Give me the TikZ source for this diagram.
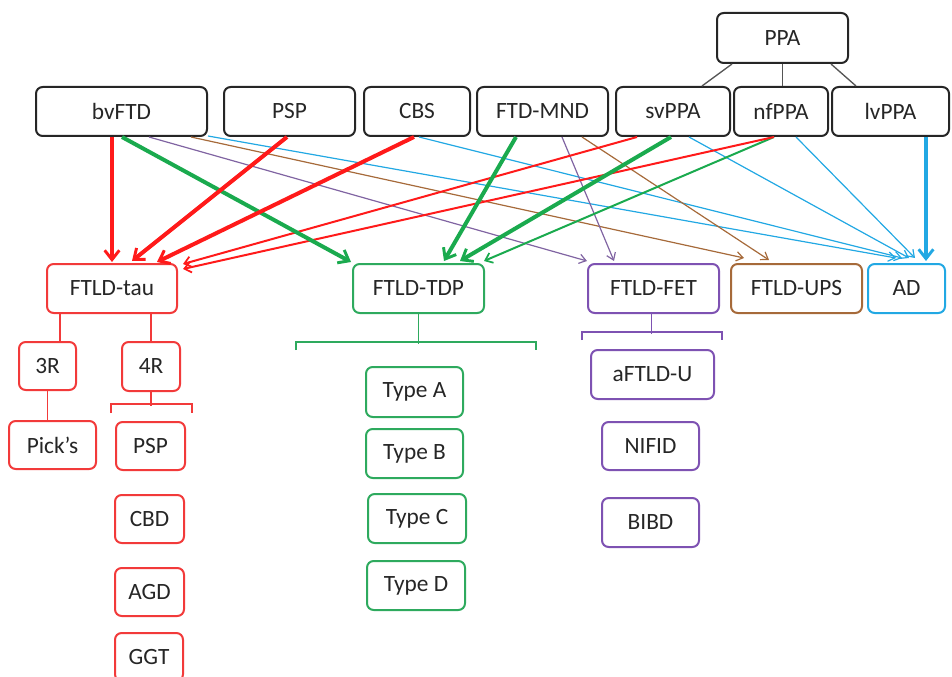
\documentclass[tikz,border=0pt]{standalone}
\usepackage{fontspec}
\setmainfont{Carlito}
\usetikzlibrary{arrows.meta,calc}
\definecolor{txt}{HTML}{262626}
\definecolor{cred}{HTML}{FF1A1A}
\definecolor{bred}{HTML}{F23A3A}
\definecolor{cgreen}{HTML}{1AAA4E}
\definecolor{bgreen}{HTML}{2EAA5E}
\definecolor{cpurple}{HTML}{8064A2}
\definecolor{bpurple}{HTML}{7E52B2}
\definecolor{cbrown}{HTML}{A66A3A}
\definecolor{cblue}{HTML}{22A8E3}
\definecolor{cgray}{HTML}{555555}
\newcommand\mybox[7]{\node[#2, minimum width={(#5-#3)*0.75pt}, minimum height={(#6-#4)*0.75pt}] (#1) at ({(#3+#5)/2},{(#4+#6)/2}) {#7};}
\begin{document}
\begin{tikzpicture}[x=0.75pt,y=-0.75pt,
  box/.style={draw, fill=white, rounded corners=5pt, line width=1.5pt, inner sep=0pt, text=txt, font=\fontsize{17.5}{20}\selectfont},
  kbox/.style={box, draw=black!85},
  rbox/.style={box, draw=bred},
  gbox/.style={box, draw=bgreen},
  pbox/.style={box, draw=bpurple},
  nbox/.style={box, draw=cbrown},
  ubox/.style={box, draw=cblue},
  thick arr/.style={line width=3pt, -{Straight Barb[length=7pt,width=11pt,line width=2.2pt]}},
  mid arr/.style={line width=1.5pt, -{Straight Barb[length=5pt,width=8pt,line width=1.3pt]}},
  thin arr/.style={line width=0.9pt, -{Straight Barb[length=5pt,width=7pt,line width=0.9pt]}},
  tree/.style={line width=1pt}
]
\useasboundingbox (0,0) rectangle (952,677);
% top row
\mybox{ppa}{kbox}{717}{13}{848}{63}{PPA}
\mybox{bv}{kbox}{36}{87}{207}{136}{bvFTD}
\mybox{psp}{kbox}{224}{87}{355}{136}{PSP}
\mybox{cbs}{kbox}{364}{87}{470}{136}{CBS}
\mybox{mnd}{kbox}{477}{87}{608}{136}{FTD-MND}
\mybox{sv}{kbox}{616}{87}{730}{136}{svPPA}
\mybox{nf}{kbox}{734}{87}{828}{136}{nfPPA}
\mybox{lv}{kbox}{832}{87}{949}{136}{lvPPA}
% second row
\mybox{tau}{rbox}{47}{264}{177}{313}{FTLD-tau}
\mybox{tdp}{gbox}{353}{264}{484}{313}{FTLD-TDP}
\mybox{fet}{pbox}{588}{264}{719}{313}{FTLD-FET}
\mybox{ups}{nbox}{731}{264}{862}{313}{FTLD-UPS}
\mybox{ad}{ubox}{868}{264}{945}{313}{AD}
% tau subtree
\mybox{r3}{rbox}{19}{342}{76}{390}{3R}
\mybox{r4}{rbox}{122}{342}{180}{391}{4R}
\mybox{pick}{rbox}{9}{421}{96}{469}{Pick’s}
\mybox{psp2}{rbox}{116}{422}{185}{470}{PSP}
\mybox{cbd}{rbox}{115}{495}{184}{543}{CBD}
\mybox{agd}{rbox}{115}{568}{184}{616}{AGD}
\mybox{ggt}{rbox}{115}{633}{183}{681}{GGT}
% tdp subtree
\mybox{ta}{gbox}{366}{367}{463}{417}{Type A}
\mybox{tb}{gbox}{366}{429}{463}{478}{Type B}
\mybox{tc}{gbox}{368}{494}{466}{543}{Type C}
\mybox{td}{gbox}{367}{561}{465}{610}{Type D}
% fet subtree
\mybox{aftld}{pbox}{591}{350}{714}{399}{aFTLD-U}
\mybox{nifid}{pbox}{602}{422}{699}{470}{NIFID}
\mybox{bibd}{pbox}{602}{498}{699}{547}{BIBD}

% PPA links
\draw[cgray, line width=1pt] ($(ppa.south west)+(16,0)$) -- ($(sv.north east)+(-29,0)$);
\draw[cgray, line width=1pt] (ppa.south) -- (ppa.south |- nf.north);
\draw[cgray, line width=1pt] ($(ppa.south east)+(-18,0)$) -- ($(lv.north west)+(25,0)$);

% tau tree
\draw[bred, tree] ($(tau.south west)+(14,0)$) coordinate (t3) -- (t3 |- r3.north);
\draw[bred, tree] (r4.north) -- (r4.north |- tau.south);
\draw[bred, tree] (r3.south) -- (r3.south |- pick.north);
\coordinate (r4bl) at ($(psp2.north west)+(-4,-8)$);
\coordinate (r4br) at ($(psp2.north east)+(6,-8)$);
\draw[bred, tree] (r4.south) -- ++(0,14);
\draw[bred, tree] (r4bl) -- ++(0,-9) -| (r4br);
% tdp tree
\coordinate (tdpbl) at ($(ta.north west)+(-69,-16)$);
\coordinate (tdpbr) at ($(ta.north east)+(72,-16)$);
\draw[bgreen, tree] (tdp.south) -- ++(0,30);
\draw[bgreen, tree] (tdpbl) -- ++(0,-8) -| (tdpbr);
% fet tree
\coordinate (fetbl) at ($(aftld.north west)+(-8,-9)$);
\coordinate (fetbr) at ($(aftld.north east)+(7,-9)$);
\draw[bpurple, tree] ($(fet.south)+(-2,0)$) -- ++(0,20);
\draw[bpurple, tree] (fetbl) -- ++(0,-8) -| (fetbr);

% thin arrows
\draw[cblue, thin arr] ($(bv.south east)+(0,-1)$) -- ($(ad.north west)+(29,-5)$);
\draw[cblue, thin arr] ($(cbs.south west)+(56,0)$) -- ($(ad.north west)+(35,-5)$);
\draw[cblue, thin arr] ($(sv.south west)+(74,0)$) -- ($(ad.north west)+(42,-5)$);
\draw[cblue, thin arr] ($(nf.south west)+(63,0)$) -- ($(ad.north west)+(48,-5)$);
\draw[cbrown, thin arr] ($(bv.south west)+(156,0)$) -- ($(ups.north west)+(14,-5)$);
\draw[cbrown, thin arr] ($(mnd.south west)+(106,0)$) -- ($(ups.north west)+(39,-3)$);
\draw[cpurple, thin arr] ($(bv.south west)+(114,0)$) -- ($(fet.north west)+(0,-2)$);
\draw[cpurple, thin arr] ($(mnd.south west)+(86,0)$) -- ($(fet.north west)+(27,-2)$);
% medium arrows
\draw[cgreen, mid arr] ($(nf.south west)+(41,0)$) -- ($(tdp.north east)+(-1,-2)$);
\draw[cred, mid arr] ($(sv.south west)+(22,0)$) -- ($(tau.north east)+(5,1)$);
\draw[cred, mid arr] ($(nf.south west)+(41,0)$) -- ($(tau.north east)+(5,6)$);
% thick arrows
\draw[cgreen, thick arr] ($(bv.south west)+(87,0)$) -- ($(tdp.north west)+(-1,-1)$);
\draw[cgreen, thick arr] ($(mnd.south west)+(40,0)$) -- ($(tdp.north west)+(92,-2)$);
\draw[cgreen, thick arr] ($(sv.south west)+(56,0)$) -- ($(tdp.north west)+(108,-2)$);
\draw[cred, thick arr] ($(bv.south west)+(77,0)$) -- ($(tau.north west)+(66,-1)$);
\draw[cred, thick arr] ($(psp.south west)+(64,0)$) -- ($(tau.north west)+(86,-2)$);
\draw[cred, thick arr] ($(cbs.south west)+(51,0)$) -- ($(tau.north west)+(111,-1)$);
\draw[cblue, thick arr] ($(lv.south west)+(95,0)$) -- ($(ad.north west)+(59,-2)$);
\end{tikzpicture}
\end{document}
